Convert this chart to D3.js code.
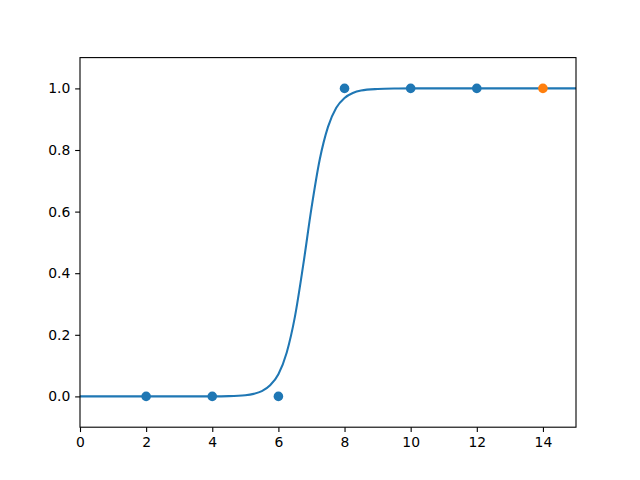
<!DOCTYPE html>
<html><head><meta charset="utf-8">
<script src="https://cdn.jsdelivr.net/npm/d3@7"></script>
<style>body{margin:0;background:#fff}svg{display:block}</style>
</head><body>
<svg id="c" width="640" height="480"></svg>
<script>
const pointsX = [2, 4, 6, 8, 10, 12];
const pointsY = [0, 0, 0, 1, 1, 1];
const extraX = [14];
const extraY = [1];
const curveX = [0, 1, 2, 3, 4, 4.5, 5, 5.25, 5.5, 5.75, 6, 6.25, 6.5, 6.75, 7, 7.25, 7.5, 7.75, 8, 8.25, 8.5, 9, 9.5, 10, 11, 12, 13, 14, 15];
const curveY = [0, 0, 0, 0, 0.0002, 0.0009, 0.0039, 0.0082, 0.017, 0.036, 0.072, 0.142, 0.259, 0.426, 0.611, 0.769, 0.875, 0.937, 0.969, 0.985, 0.993, 0.998, 0.9996, 1, 1, 1, 1, 1, 1];
const xTicks = [0, 2, 4, 6, 8, 10, 12, 14];
const yTicks = [0.0, 0.2, 0.4, 0.6, 0.8, 1.0];

const L = 80, R = 576, T = 57.6, B = 427.2;
const svg = d3.select("#c");
const x = d3.scaleLinear().domain([0, 15]).range([L, R]);
const y = d3.scaleLinear().domain([-0.1, 1.1]).range([B, T]);

const g = svg.append("g");
const clip = svg.append("clipPath").attr("id", "clp").append("rect")
  .attr("x", L).attr("y", T).attr("width", R - L).attr("height", B - T);

const line = d3.line().x((d, i) => x(curveX[i])).y((d, i) => y(curveY[i])).curve(d3.curveMonotoneX);
g.append("path").datum(curveX).attr("d", line).attr("fill", "none")
  .attr("stroke", "#1f77b4").attr("stroke-width", 2.08).attr("clip-path", "url(#clp)");

g.selectAll("circle.a").data(pointsX).enter().append("circle")
  .attr("cx", d => x(d)).attr("cy", (d, i) => y(pointsY[i])).attr("r", 4.8).attr("fill", "#1f77b4");
g.selectAll("circle.b").data(extraX).enter().append("circle")
  .attr("cx", d => x(d)).attr("cy", (d, i) => y(extraY[i])).attr("r", 4.8).attr("fill", "#ff7f0e");

const fmt = d3.format(".1f");
const xAxis = d3.axisBottom(x).tickValues(xTicks).tickFormat(d3.format("d")).tickSizeInner(4.86).tickSizeOuter(0).tickPadding(4.86);
const yAxis = d3.axisLeft(y).tickValues(yTicks).tickFormat(fmt).tickSizeInner(4.86).tickSizeOuter(0).tickPadding(4.86);
const ax = svg.append("g").attr("transform", `translate(0,${B})`).call(xAxis);
const ay = svg.append("g").attr("transform", `translate(${L},0)`).call(yAxis);
[ax, ay].forEach(a => {
  a.select(".domain").remove();
  a.selectAll(".tick line").attr("stroke", "#000").attr("stroke-width", 1.1);
  a.selectAll(".tick text").attr("fill", "#000").style("font-family", "DejaVu Sans").style("font-size", "13.9px");
});
svg.append("rect").attr("x", L).attr("y", T).attr("width", R - L).attr("height", B - T)
  .attr("fill", "none").attr("stroke", "#000").attr("stroke-width", 1.1);
</script>
</body></html>
